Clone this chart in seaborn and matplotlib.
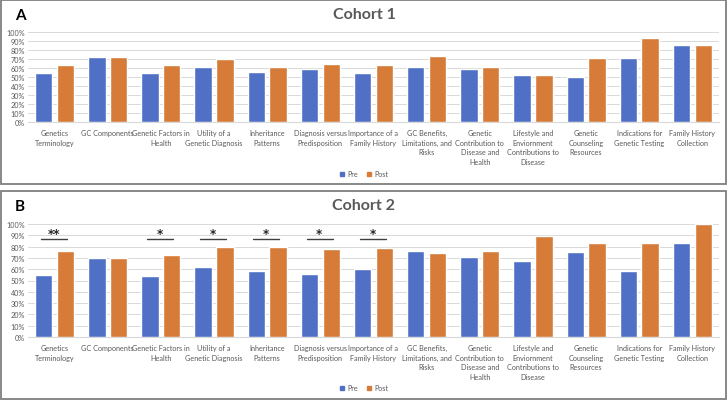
import matplotlib
matplotlib.use("Agg")
import matplotlib.pyplot as plt
import seaborn as sns
import pandas as pd
from matplotlib.patches import Rectangle, Patch
from matplotlib.ticker import PercentFormatter

categories = ["Genetics Terminology", "GC Components", "Genetic Factors in Health",
              "Utility of a Genetic Diagnosis", "Inheritance Patterns",
              "Diagnosis versus Predisposition", "Importance of a Family History",
              "GC Benefits, Limitations, and Risks", "Genetic Contribution to Disease and Health",
              "Lifestyle and Enviornment Contributions to Disease",
              "Genetic Counseling Resources", "Indications for Genetic Testing",
              "Family History Collection"]
tick_labels = ["Genetics\nTerminology", "GC Components", "Genetic Factors in\nHealth",
               "Utility of a\nGenetic Diagnosis", "Inheritance\nPatterns",
               "Diagnosis versus\nPredisposition", "Importance of a\nFamily History",
               "GC Benefits,\nLimitations, and\nRisks", "Genetic\nContribution to\nDisease and\nHealth",
               "Lifestyle and\nEnviornment\nContributions to\nDisease",
               "Genetic\nCounseling\nResources", "Indications for\nGenetic Testing",
               "Family History\nCollection"]

cohort1_pre = [55, 72, 55, 61, 56, 59, 55, 61, 59, 52, 50, 71, 86]
cohort1_post = [63, 72, 63, 70, 61, 65, 63, 73, 61, 52, 71, 93, 86]
cohort2_pre = [55, 70, 54, 62, 58, 56, 60, 76, 71, 67, 75, 58, 83]
cohort2_post = [76, 70, 73, 80, 80, 78, 79, 74, 76, 89, 83, 83, 100]
cohort2_sig = ["**", "", "*", "*", "*", "*", "*", "", "", "", "", "", ""]

phases = ["Pre", "Post"]
colors = ["#4F70C5", "#D67B38"]
gray = "#595959"

W, H = 728, 402
fig = plt.figure(figsize=(W / 100, H / 100), dpi=100)
sns.set_style("white")
plt.rcParams['font.family'] = ['Lato', 'DejaVu Sans']


def fx(px):
    return px / W


def fy(py):
    return 1 - py / H


def panel(pre, post, sig, box, axbox, title, letter, legend_y):
    x0, y0, x1, y1 = box
    fig.patches.append(Rectangle((fx(x0), fy(y1)), fx(x1 - x0), (y1 - y0) / H,
                                 transform=fig.transFigure, fill=False,
                                 edgecolor="#7F7F7F", linewidth=1.3))
    l, t, r, b = axbox
    ax = fig.add_axes([fx(l), fy(b), fx(r - l), (b - t) / H])
    df = pd.DataFrame({
        "Category": categories * 2,
        "Phase": ["Pre"] * len(categories) + ["Post"] * len(categories),
        "Value": list(pre) + list(post),
    })
    sns.barplot(data=df, x="Category", y="Value", hue="Phase", hue_order=phases,
                palette=colors, width=0.82, gap=0.2, ax=ax, legend=False,
                saturation=1, zorder=3)
    ax.set_ylim(0, 100)
    ax.set_yticks(range(0, 101, 10))
    ax.yaxis.set_major_formatter(PercentFormatter(decimals=0))
    ax.set_xticks(range(len(categories)))
    ax.set_xticklabels(tick_labels, fontsize=5.2, color=gray, linespacing=1.45)
    ax.tick_params(axis="y", labelsize=5.2, labelcolor=gray, length=0, pad=2)
    ax.tick_params(axis="x", length=0, pad=5)
    ax.set_xlim(-0.5, len(categories) - 0.5)
    ax.grid(axis="y", color="#D9D9D9", linewidth=0.7, zorder=0)
    ax.set_axisbelow(True)
    for s in ["top", "right", "left"]:
        ax.spines[s].set_visible(False)
    ax.spines["bottom"].set_color("#D9D9D9")
    ax.set_xlabel("")
    ax.set_ylabel("")
    for i, s in enumerate(sig):
        if s:
            ax.plot([i - 0.26, i + 0.23], [87, 87], color="#404040", lw=1.0,
                    zorder=4, clip_on=False)
            ax.text(i - 0.02, 86.0, s, ha="center", va="bottom", fontsize=8.5,
                    fontweight="bold", color="#262626", family="DejaVu Sans")
    fig.text(fx(364), fy(box[1] + 14), title, ha="center", va="center",
             fontsize=11.5, fontweight="bold", color=gray)
    fig.text(fx(15), fy(box[1] + 15), letter, ha="left", va="center",
             fontsize=11, fontweight="bold", color="black")
    handles = [Patch(facecolor=c, edgecolor=c) for c in colors]
    fig.legend(handles, phases, loc="center", bbox_to_anchor=(fx(364), fy(legend_y)),
               ncol=2, frameon=False, fontsize=5.2, labelcolor=gray,
               handlelength=0.6, handleheight=0.6, handletextpad=0.4,
               columnspacing=1.2)
    return ax


panel(cohort1_pre, cohort1_post, [""] * len(categories), (1, 1, 726, 185),
      (28, 33, 719, 123), "Cohort 1", "A", 175)
panel(cohort2_pre, cohort2_post, cohort2_sig, (1, 192, 726, 400),
      (28, 225, 719, 338), "Cohort 2", "B", 389)

fig.savefig("out.png", dpi=100)
